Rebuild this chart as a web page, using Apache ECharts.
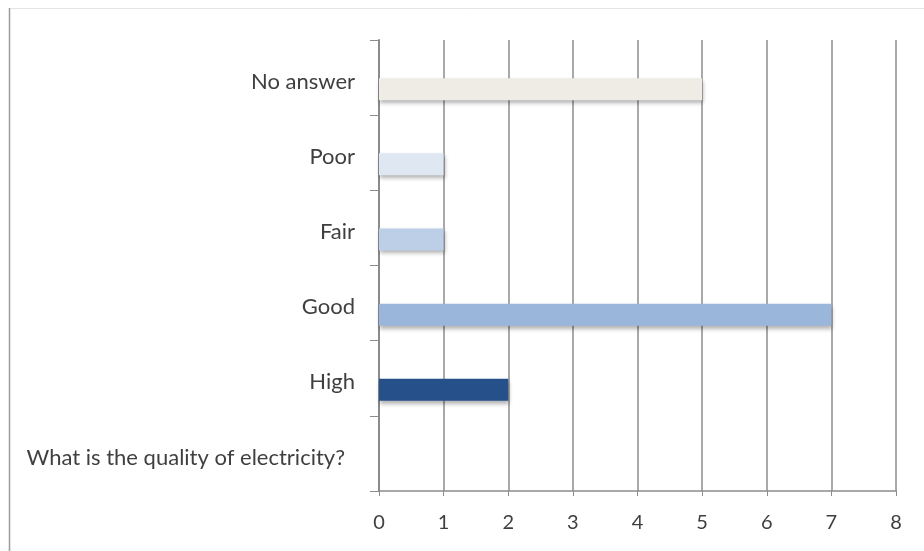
<!DOCTYPE html>
<html>
<head>
<meta charset="utf-8">
<script src="https://cdn.jsdelivr.net/npm/echarts@6/dist/echarts.min.js"></script>
<style>
  html, body { margin: 0; padding: 0; background: #ffffff; }
  #chart { width: 924px; height: 551px; }
</style>
</head>
<body>
<div id="chart"></div>
<script>
// Survey answers, listed bottom to top on the category axis
const categories = ['What is the quality of electricity?', 'High', 'Good', 'Fair', 'Poor', 'No answer'];
const responses = [null, 2, 7, 1, 1, 5];
const barColors = ['#ffffff', '#25508a', '#9ab7db', '#bccfe7', '#dfe7f3', '#eeece4'];
const xTicks = [0, 1, 2, 3, 4, 5, 6, 7, 8];

const chart = echarts.init(document.getElementById('chart'), null, { renderer: 'canvas' });

const textFont = 'Lato, "Open Sans", sans-serif';
const textColor = '#3f3f3f';

chart.setOption({
  animation: false,
  backgroundColor: '#ffffff',
  graphic: [
    { type: 'line', shape: { x1: 9, y1: 8.5, x2: 924, y2: 8.5 }, style: { stroke: '#e4e4e4', lineWidth: 1 } },
    { type: 'line', shape: { x1: 9.5, y1: 8, x2: 9.5, y2: 551 }, style: { stroke: '#9c9c9c', lineWidth: 1.5 } }
  ],
  grid: { left: 379, right: 28, top: 40, bottom: 60, containLabel: false },
  xAxis: {
    type: 'value',
    min: xTicks[0],
    max: xTicks[xTicks.length - 1],
    interval: 1,
    axisLine: { show: true, lineStyle: { color: '#8c8c8c', width: 1.5 } },
    axisTick: { show: true, length: 5, lineStyle: { color: '#8c8c8c', width: 1 } },
    splitLine: { show: true, lineStyle: { color: '#8c8c8c', width: 1.5 } },
    axisLabel: { color: textColor, fontFamily: textFont, fontSize: 20, margin: 22 }
  },
  yAxis: {
    type: 'category',
    data: categories,
    axisLine: { show: true, lineStyle: { color: '#8a8a8a', width: 2 } },
    axisTick: { show: true, length: 9, lineStyle: { color: '#8c8c8c', width: 1 } },
    axisLabel: {
      color: textColor, fontFamily: textFont, fontSize: 22, margin: 24,
      formatter: function (v, i) { return i === 0 ? '{q|' + v + '}' : '{a|' + v + '}'; },
      rich: {
        a: { fontFamily: textFont, fontSize: 22, color: textColor, padding: [8, 0, 0, 0] },
        q: { fontFamily: textFont, fontSize: 22, color: textColor, padding: [8, 10, 0, 0] }
      }
    }
  },
  series: [
    {
      type: 'bar',
      barWidth: 22,
      barGap: '5%',
      data: responses.map(() => null)
    },
    {
      type: 'bar',
      barWidth: 22,
      data: responses.map((v, i) => ({
        value: v,
        itemStyle: {
          color: barColors[i],
          shadowColor: 'rgba(0,0,0,0.3)',
          shadowBlur: 4,
          shadowOffsetX: 1,
          shadowOffsetY: 3
        }
      }))
    }
  ]
});
</script>
</body>
</html>
